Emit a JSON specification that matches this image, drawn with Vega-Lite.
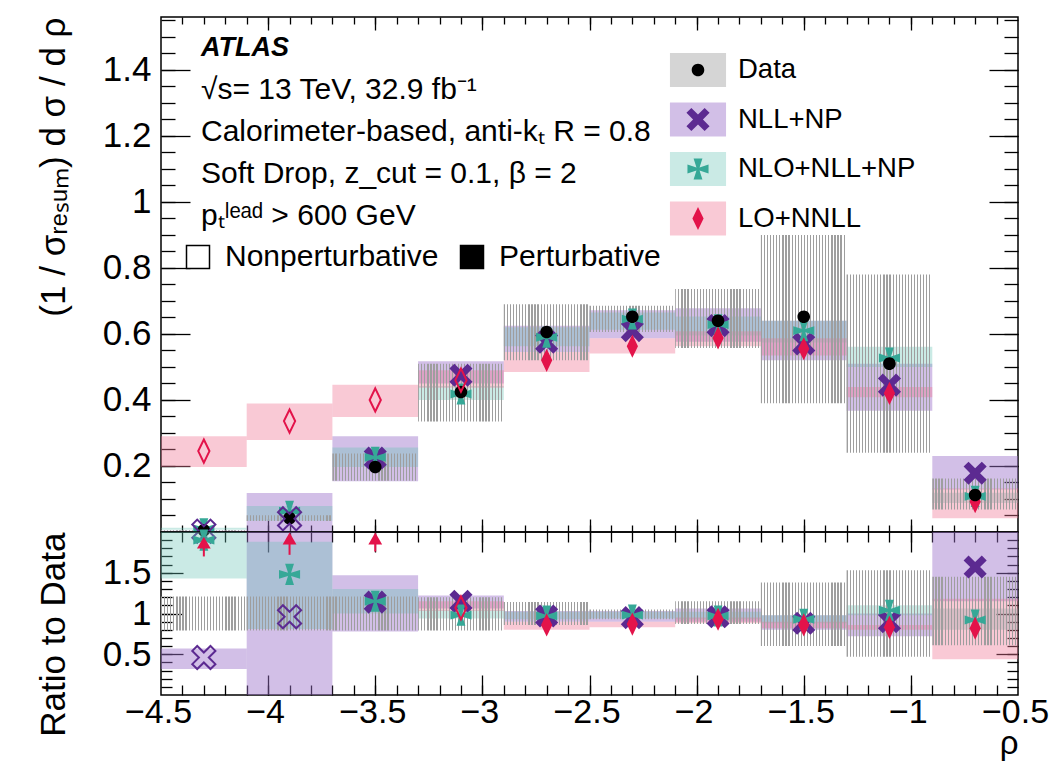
{
  "$schema": "https://vega.github.io/schema/vega-lite/v6.json",
  "background": "white",
  "padding": {"left": 35, "top": 15, "right": 0, "bottom": 0},
  "spacing": 0,
  "bounds": "flush",
  "datasets": {
    "top_bands": [
      {"model": "NLL+NP", "lo": -4.5, "hi": -4.1, "y1": 0.0015, "y2": 0.004},
      {"model": "NLL+NP", "lo": -4.1, "hi": -3.7, "y1": 0.0, "y2": 0.118},
      {"model": "NLL+NP", "lo": -3.7, "hi": -3.3, "y1": 0.154, "y2": 0.29},
      {"model": "NLL+NP", "lo": -3.3, "hi": -2.9, "y1": 0.45, "y2": 0.517},
      {"model": "NLL+NP", "lo": -2.9, "hi": -2.5, "y1": 0.545, "y2": 0.625},
      {"model": "NLL+NP", "lo": -2.5, "hi": -2.1, "y1": 0.587, "y2": 0.672},
      {"model": "NLL+NP", "lo": -2.1, "hi": -1.7, "y1": 0.576, "y2": 0.678},
      {"model": "NLL+NP", "lo": -1.7, "hi": -1.3, "y1": 0.52, "y2": 0.64},
      {"model": "NLL+NP", "lo": -1.3, "hi": -0.9, "y1": 0.367, "y2": 0.51},
      {"model": "NLL+NP", "lo": -0.9, "hi": -0.5, "y1": 0.129, "y2": 0.23},
      {"model": "NLO+NLL+NP", "lo": -4.5, "hi": -4.1, "y1": 0.007, "y2": 0.013},
      {"model": "NLO+NLL+NP", "lo": -4.1, "hi": -3.7, "y1": 0.034, "y2": 0.079},
      {"model": "NLO+NLL+NP", "lo": -3.7, "hi": -3.3, "y1": 0.197, "y2": 0.256},
      {"model": "NLO+NLL+NP", "lo": -3.3, "hi": -2.9, "y1": 0.4, "y2": 0.442},
      {"model": "NLO+NLL+NP", "lo": -2.9, "hi": -2.5, "y1": 0.563, "y2": 0.62},
      {"model": "NLO+NLL+NP", "lo": -2.5, "hi": -2.1, "y1": 0.613, "y2": 0.665},
      {"model": "NLO+NLL+NP", "lo": -2.1, "hi": -1.7, "y1": 0.595, "y2": 0.653},
      {"model": "NLO+NLL+NP", "lo": -1.7, "hi": -1.3, "y1": 0.574, "y2": 0.64},
      {"model": "NLO+NLL+NP", "lo": -1.3, "hi": -0.9, "y1": 0.5, "y2": 0.561},
      {"model": "NLO+NLL+NP", "lo": -0.9, "hi": -0.5, "y1": 0.088, "y2": 0.119},
      {"model": "LO+NNLL", "lo": -4.5, "hi": -4.1, "y1": 0.197, "y2": 0.29},
      {"model": "LO+NNLL", "lo": -4.1, "hi": -3.7, "y1": 0.279, "y2": 0.389},
      {"model": "LO+NNLL", "lo": -3.7, "hi": -3.3, "y1": 0.348, "y2": 0.446},
      {"model": "LO+NNLL", "lo": -3.3, "hi": -2.9, "y1": 0.437, "y2": 0.49},
      {"model": "LO+NNLL", "lo": -2.9, "hi": -2.5, "y1": 0.485, "y2": 0.545},
      {"model": "LO+NNLL", "lo": -2.5, "hi": -2.1, "y1": 0.541, "y2": 0.587},
      {"model": "LO+NNLL", "lo": -2.1, "hi": -1.7, "y1": 0.563, "y2": 0.608},
      {"model": "LO+NNLL", "lo": -1.7, "hi": -1.3, "y1": 0.535, "y2": 0.587},
      {"model": "LO+NNLL", "lo": -1.3, "hi": -0.9, "y1": 0.408, "y2": 0.439},
      {"model": "LO+NNLL", "lo": -0.9, "hi": -0.5, "y1": 0.042, "y2": 0.132},
      {"model": "Data", "lo": -4.5, "hi": -4.1, "y1": 0.004, "y2": 0.006},
      {"model": "Data", "lo": -4.1, "hi": -3.7, "y1": 0.033, "y2": 0.051},
      {"model": "Data", "lo": -3.7, "hi": -3.3, "y1": 0.155, "y2": 0.238},
      {"model": "Data", "lo": -3.3, "hi": -2.9, "y1": 0.335, "y2": 0.51},
      {"model": "Data", "lo": -2.9, "hi": -2.5, "y1": 0.52, "y2": 0.69},
      {"model": "Data", "lo": -2.5, "hi": -2.1, "y1": 0.606, "y2": 0.685},
      {"model": "Data", "lo": -2.1, "hi": -1.7, "y1": 0.557, "y2": 0.736},
      {"model": "Data", "lo": -1.7, "hi": -1.3, "y1": 0.39, "y2": 0.9},
      {"model": "Data", "lo": -1.3, "hi": -0.9, "y1": 0.24, "y2": 0.78},
      {"model": "Data", "lo": -0.9, "hi": -0.5, "y1": 0.068, "y2": 0.162}
    ],
    "top_pts": [
      {"model": "NLL+NP", "x": -4.3, "v": 0.0025, "open": true},
      {"model": "NLL+NP", "x": -3.9, "v": 0.04, "open": true},
      {"model": "NLL+NP", "x": -3.5, "v": 0.224, "open": false},
      {"model": "NLL+NP", "x": -3.1, "v": 0.475, "open": false},
      {"model": "NLL+NP", "x": -2.7, "v": 0.575, "open": false},
      {"model": "NLL+NP", "x": -2.3, "v": 0.61, "open": false},
      {"model": "NLL+NP", "x": -1.9, "v": 0.625, "open": false},
      {"model": "NLL+NP", "x": -1.5, "v": 0.57, "open": false},
      {"model": "NLL+NP", "x": -1.1, "v": 0.445, "open": false},
      {"model": "NLL+NP", "x": -0.7, "v": 0.178, "open": false},
      {"model": "NLO+NLL+NP", "x": -4.3, "v": 0.0095, "open": false},
      {"model": "NLO+NLL+NP", "x": -3.9, "v": 0.063, "open": false},
      {"model": "NLO+NLL+NP", "x": -3.5, "v": 0.226, "open": false},
      {"model": "NLO+NLL+NP", "x": -3.1, "v": 0.418, "open": false},
      {"model": "NLO+NLL+NP", "x": -2.7, "v": 0.59, "open": false},
      {"model": "NLO+NLL+NP", "x": -2.3, "v": 0.645, "open": false},
      {"model": "NLO+NLL+NP", "x": -1.9, "v": 0.628, "open": false},
      {"model": "NLO+NLL+NP", "x": -1.5, "v": 0.61, "open": false},
      {"model": "NLO+NLL+NP", "x": -1.1, "v": 0.527, "open": false},
      {"model": "NLO+NLL+NP", "x": -0.7, "v": 0.108, "open": false},
      {"model": "LO+NNLL", "x": -4.3, "v": 0.245, "open": true},
      {"model": "LO+NNLL", "x": -3.9, "v": 0.336, "open": true},
      {"model": "LO+NNLL", "x": -3.5, "v": 0.4, "open": true},
      {"model": "LO+NNLL", "x": -3.1, "v": 0.46, "open": true},
      {"model": "LO+NNLL", "x": -2.7, "v": 0.52, "open": false},
      {"model": "LO+NNLL", "x": -2.3, "v": 0.563, "open": false},
      {"model": "LO+NNLL", "x": -1.9, "v": 0.588, "open": false},
      {"model": "LO+NNLL", "x": -1.5, "v": 0.555, "open": false},
      {"model": "LO+NNLL", "x": -1.1, "v": 0.42, "open": false},
      {"model": "LO+NNLL", "x": -0.7, "v": 0.092, "open": false},
      {"model": "Data", "x": -4.3, "v": 0.005, "open": false},
      {"model": "Data", "x": -3.9, "v": 0.042, "open": false},
      {"model": "Data", "x": -3.5, "v": 0.197, "open": false},
      {"model": "Data", "x": -3.1, "v": 0.424, "open": false},
      {"model": "Data", "x": -2.7, "v": 0.606, "open": false},
      {"model": "Data", "x": -2.3, "v": 0.652, "open": false},
      {"model": "Data", "x": -1.9, "v": 0.64, "open": false},
      {"model": "Data", "x": -1.5, "v": 0.652, "open": false},
      {"model": "Data", "x": -1.1, "v": 0.51, "open": false},
      {"model": "Data", "x": -0.7, "v": 0.112, "open": false}
    ],
    "ratio_bands": [
      {"model": "NLL+NP", "lo": -4.5, "hi": -4.1, "y1": 0.32, "y2": 0.57},
      {"model": "NLL+NP", "lo": -4.1, "hi": -3.7, "y1": 0.0, "y2": 2.0},
      {"model": "NLL+NP", "lo": -3.7, "hi": -3.3, "y1": 0.78, "y2": 1.47},
      {"model": "NLL+NP", "lo": -3.3, "hi": -2.9, "y1": 1.06, "y2": 1.22},
      {"model": "NLL+NP", "lo": -2.9, "hi": -2.5, "y1": 0.9, "y2": 1.03},
      {"model": "NLL+NP", "lo": -2.5, "hi": -2.1, "y1": 0.9, "y2": 1.03},
      {"model": "NLL+NP", "lo": -2.1, "hi": -1.7, "y1": 0.9, "y2": 1.06},
      {"model": "NLL+NP", "lo": -1.7, "hi": -1.3, "y1": 0.8, "y2": 0.98},
      {"model": "NLL+NP", "lo": -1.3, "hi": -0.9, "y1": 0.72, "y2": 1.0},
      {"model": "NLL+NP", "lo": -0.9, "hi": -0.5, "y1": 1.15, "y2": 2.0},
      {"model": "NLO+NLL+NP", "lo": -4.5, "hi": -4.1, "y1": 1.43, "y2": 2.0},
      {"model": "NLO+NLL+NP", "lo": -4.1, "hi": -3.7, "y1": 0.81, "y2": 1.88},
      {"model": "NLO+NLL+NP", "lo": -3.7, "hi": -3.3, "y1": 1.0, "y2": 1.3},
      {"model": "NLO+NLL+NP", "lo": -3.3, "hi": -2.9, "y1": 0.94, "y2": 1.04},
      {"model": "NLO+NLL+NP", "lo": -2.9, "hi": -2.5, "y1": 0.93, "y2": 1.02},
      {"model": "NLO+NLL+NP", "lo": -2.5, "hi": -2.1, "y1": 0.94, "y2": 1.02},
      {"model": "NLO+NLL+NP", "lo": -2.1, "hi": -1.7, "y1": 0.93, "y2": 1.02},
      {"model": "NLO+NLL+NP", "lo": -1.7, "hi": -1.3, "y1": 0.88, "y2": 0.98},
      {"model": "NLO+NLL+NP", "lo": -1.3, "hi": -0.9, "y1": 0.98, "y2": 1.1},
      {"model": "NLO+NLL+NP", "lo": -0.9, "hi": -0.5, "y1": 0.8, "y2": 1.06},
      {"model": "LO+NNLL", "lo": -3.3, "hi": -2.9, "y1": 1.03, "y2": 1.15},
      {"model": "LO+NNLL", "lo": -2.9, "hi": -2.5, "y1": 0.8, "y2": 0.9},
      {"model": "LO+NNLL", "lo": -2.5, "hi": -2.1, "y1": 0.83, "y2": 0.9},
      {"model": "LO+NNLL", "lo": -2.1, "hi": -1.7, "y1": 0.88, "y2": 0.95},
      {"model": "LO+NNLL", "lo": -1.7, "hi": -1.3, "y1": 0.82, "y2": 0.9},
      {"model": "LO+NNLL", "lo": -1.3, "hi": -0.9, "y1": 0.8, "y2": 0.86},
      {"model": "LO+NNLL", "lo": -0.9, "hi": -0.5, "y1": 0.44, "y2": 1.18},
      {"model": "Data", "lo": -4.5, "hi": -4.1, "y1": 0.79, "y2": 1.21},
      {"model": "Data", "lo": -4.1, "hi": -3.7, "y1": 0.79, "y2": 1.21},
      {"model": "Data", "lo": -3.7, "hi": -3.3, "y1": 0.79, "y2": 1.21},
      {"model": "Data", "lo": -3.3, "hi": -2.9, "y1": 0.79, "y2": 1.2},
      {"model": "Data", "lo": -2.9, "hi": -2.5, "y1": 0.86, "y2": 1.14},
      {"model": "Data", "lo": -2.5, "hi": -2.1, "y1": 0.93, "y2": 1.05},
      {"model": "Data", "lo": -2.1, "hi": -1.7, "y1": 0.87, "y2": 1.15},
      {"model": "Data", "lo": -1.7, "hi": -1.3, "y1": 0.6, "y2": 1.38},
      {"model": "Data", "lo": -1.3, "hi": -0.9, "y1": 0.47, "y2": 1.53},
      {"model": "Data", "lo": -0.9, "hi": -0.5, "y1": 0.61, "y2": 1.45}
    ],
    "ratio_pts": [
      {"model": "NLL+NP", "x": -4.3, "v": 0.46, "open": true},
      {"model": "NLL+NP", "x": -3.9, "v": 0.96, "open": true},
      {"model": "NLL+NP", "x": -3.5, "v": 1.14, "open": false},
      {"model": "NLL+NP", "x": -3.1, "v": 1.15, "open": false},
      {"model": "NLL+NP", "x": -2.7, "v": 0.97, "open": false},
      {"model": "NLL+NP", "x": -2.3, "v": 0.95, "open": false},
      {"model": "NLL+NP", "x": -1.9, "v": 0.96, "open": false},
      {"model": "NLL+NP", "x": -1.5, "v": 0.88, "open": false},
      {"model": "NLL+NP", "x": -1.1, "v": 0.9, "open": false},
      {"model": "NLL+NP", "x": -0.7, "v": 1.57, "open": false},
      {"model": "NLO+NLL+NP", "x": -4.3, "v": 1.9, "open": false},
      {"model": "NLO+NLL+NP", "x": -3.9, "v": 1.48, "open": false},
      {"model": "NLO+NLL+NP", "x": -3.5, "v": 1.15, "open": false},
      {"model": "NLO+NLL+NP", "x": -3.1, "v": 0.98, "open": false},
      {"model": "NLO+NLL+NP", "x": -2.7, "v": 0.97, "open": false},
      {"model": "NLO+NLL+NP", "x": -2.3, "v": 0.98, "open": false},
      {"model": "NLO+NLL+NP", "x": -1.9, "v": 0.97, "open": false},
      {"model": "NLO+NLL+NP", "x": -1.5, "v": 0.93, "open": false},
      {"model": "NLO+NLL+NP", "x": -1.1, "v": 1.04, "open": false},
      {"model": "NLO+NLL+NP", "x": -0.7, "v": 0.92, "open": false},
      {"model": "LO+NNLL", "x": -3.1, "v": 1.07, "open": true},
      {"model": "LO+NNLL", "x": -2.7, "v": 0.86, "open": false},
      {"model": "LO+NNLL", "x": -2.3, "v": 0.87, "open": false},
      {"model": "LO+NNLL", "x": -1.9, "v": 0.93, "open": false},
      {"model": "LO+NNLL", "x": -1.5, "v": 0.86, "open": false},
      {"model": "LO+NNLL", "x": -1.1, "v": 0.83, "open": false},
      {"model": "LO+NNLL", "x": -0.7, "v": 0.82, "open": false}
    ],
    "ratio_arrows": [
      {"model": "LO+NNLL", "x": -4.3, "y1": 1.7, "y2": 1.85, "tip": 1.87},
      {"model": "LO+NNLL", "x": -3.9, "y1": 1.72, "y2": 1.9, "tip": 1.92},
      {"model": "LO+NNLL", "x": -3.5, "y1": 1.76, "y2": 1.9, "tip": 1.92}
    ]
  },
  "resolve": {
    "scale": {"color": "independent", "shape": "independent", "fill": "independent"},
    "legend": {"color": "independent", "shape": "independent", "fill": "independent"}
  },
  "vconcat": [
    {
      "width": 857,
      "height": 515,
      "title": {
        "text": "ATLAS",
        "subtitle": ["√s= 13 TeV, 32.9 fb⁻¹", "Calorimeter-based, anti-kₜ R = 0.8", "Soft Drop, z_cut = 0.1, β = 2", "pₜˡᵉᵃᵈ > 600 GeV"],
        "anchor": "start",
        "frame": "group",
        "orient": "top",
        "offset": -216,
        "dx": 40,
        "font": "Liberation Sans",
        "fontSize": 27,
        "fontWeight": "bold",
        "fontStyle": "italic",
        "color": "black",
        "subtitleFont": "Liberation Sans",
        "subtitleFontSize": 30,
        "subtitleLineHeight": 42,
        "subtitlePadding": 13,
        "subtitleColor": "black"
      },
      "resolve": {
        "scale": {"fill": "independent"},
        "legend": {"fill": "independent"},
        "axis": {"x": "independent", "y": "independent"}
      },
      "layer": [
        {
          "data": {"name": "top_bands"},
          "transform": [{"filter": "datum.model != 'Data'"}],
          "mark": {"type": "rect"},
          "encoding": {
            "x": {"field": "lo", "type": "quantitative", "scale": {"domain": [-4.5, -0.5], "nice": false, "zero": false},
                  "axis": {"orient": "bottom", "offset": -515, "values": [-4, -3.5, -3, -2.5, -2, -1.5, -1], "labels": false, "title": null, "tickSize": 13}},
            "x2": {"field": "hi"},
            "y": {"field": "y1", "type": "quantitative", "scale": {"domain": [0, 1.56], "nice": false, "zero": false},
                  "axis": {"orient": "left", "values": [0.2, 0.4, 0.6, 0.8, 1, 1.2, 1.4], "format": "~g", "ticks": false, "labelFontSize": 35, "labelPadding": 10, "title": "(1 / σᵣₑₛᵤₘ) d σ / d ρ", "titleFontSize": 35, "titleAnchor": "end", "titlePadding": 31}},
            "y2": {"field": "y2"},
            "fill": {"field": "model", "type": "nominal",
                     "scale": {"domain": ["Data", "NLL+NP", "NLO+NLL+NP", "LO+NNLL"], "range": ["rgba(150,150,150,0.4)", "rgba(155,114,201,0.45)", "rgba(102,194,181,0.35)", "rgba(240,120,150,0.4)"]},
                     "legend": {"orient": "none", "legendX": 520, "legendY": 36, "title": null, "symbolType": "M-1.65,-1H1.65V1H-1.65Z", "symbolSize": 1156, "symbolStrokeWidth": 0, "labelFontSize": 27.5, "labelOffset": 23, "rowPadding": 15.5, "zindex": 1, "padding": 0, "labelLimit": 0}}
          }
        },
        {
          "data": {"name": "top_bands"},
          "transform": [{"filter": "datum.model == 'Data'"}],
          "mark": {"type": "rect", "fill": {"gradient": "linear", "x1": 0, "y1": 0, "x2": 1, "y2": 0, "stops": [
            {"offset": 0, "color": "#9e9e9e"}, {"offset": 0.0143, "color": "#9e9e9e"}, {"offset": 0.0143, "color": "rgba(158,158,158,0)"}, {"offset": 0.0357, "color": "rgba(158,158,158,0)"},
            {"offset": 0.0357, "color": "#9e9e9e"}, {"offset": 0.05, "color": "#9e9e9e"}, {"offset": 0.05, "color": "rgba(158,158,158,0)"}, {"offset": 0.0714, "color": "rgba(158,158,158,0)"},
            {"offset": 0.0714, "color": "#9e9e9e"}, {"offset": 0.0857, "color": "#9e9e9e"}, {"offset": 0.0857, "color": "rgba(158,158,158,0)"}, {"offset": 0.1071, "color": "rgba(158,158,158,0)"},
            {"offset": 0.1071, "color": "#9e9e9e"}, {"offset": 0.1214, "color": "#9e9e9e"}, {"offset": 0.1214, "color": "rgba(158,158,158,0)"}, {"offset": 0.1429, "color": "rgba(158,158,158,0)"},
            {"offset": 0.1429, "color": "#9e9e9e"}, {"offset": 0.1571, "color": "#9e9e9e"}, {"offset": 0.1571, "color": "rgba(158,158,158,0)"}, {"offset": 0.1786, "color": "rgba(158,158,158,0)"},
            {"offset": 0.1786, "color": "#9e9e9e"}, {"offset": 0.1929, "color": "#9e9e9e"}, {"offset": 0.1929, "color": "rgba(158,158,158,0)"}, {"offset": 0.2143, "color": "rgba(158,158,158,0)"},
            {"offset": 0.2143, "color": "#9e9e9e"}, {"offset": 0.2286, "color": "#9e9e9e"}, {"offset": 0.2286, "color": "rgba(158,158,158,0)"}, {"offset": 0.25, "color": "rgba(158,158,158,0)"},
            {"offset": 0.25, "color": "#9e9e9e"}, {"offset": 0.2643, "color": "#9e9e9e"}, {"offset": 0.2643, "color": "rgba(158,158,158,0)"}, {"offset": 0.2857, "color": "rgba(158,158,158,0)"},
            {"offset": 0.2857, "color": "#9e9e9e"}, {"offset": 0.3, "color": "#9e9e9e"}, {"offset": 0.3, "color": "rgba(158,158,158,0)"}, {"offset": 0.3214, "color": "rgba(158,158,158,0)"},
            {"offset": 0.3214, "color": "#9e9e9e"}, {"offset": 0.3357, "color": "#9e9e9e"}, {"offset": 0.3357, "color": "rgba(158,158,158,0)"}, {"offset": 0.3571, "color": "rgba(158,158,158,0)"},
            {"offset": 0.3571, "color": "#9e9e9e"}, {"offset": 0.3714, "color": "#9e9e9e"}, {"offset": 0.3714, "color": "rgba(158,158,158,0)"}, {"offset": 0.3929, "color": "rgba(158,158,158,0)"},
            {"offset": 0.3929, "color": "#9e9e9e"}, {"offset": 0.4071, "color": "#9e9e9e"}, {"offset": 0.4071, "color": "rgba(158,158,158,0)"}, {"offset": 0.4286, "color": "rgba(158,158,158,0)"},
            {"offset": 0.4286, "color": "#9e9e9e"}, {"offset": 0.4429, "color": "#9e9e9e"}, {"offset": 0.4429, "color": "rgba(158,158,158,0)"}, {"offset": 0.4643, "color": "rgba(158,158,158,0)"},
            {"offset": 0.4643, "color": "#9e9e9e"}, {"offset": 0.4786, "color": "#9e9e9e"}, {"offset": 0.4786, "color": "rgba(158,158,158,0)"}, {"offset": 0.5, "color": "rgba(158,158,158,0)"},
            {"offset": 0.5, "color": "#9e9e9e"}, {"offset": 0.5143, "color": "#9e9e9e"}, {"offset": 0.5143, "color": "rgba(158,158,158,0)"}, {"offset": 0.5357, "color": "rgba(158,158,158,0)"},
            {"offset": 0.5357, "color": "#9e9e9e"}, {"offset": 0.55, "color": "#9e9e9e"}, {"offset": 0.55, "color": "rgba(158,158,158,0)"}, {"offset": 0.5714, "color": "rgba(158,158,158,0)"},
            {"offset": 0.5714, "color": "#9e9e9e"}, {"offset": 0.5857, "color": "#9e9e9e"}, {"offset": 0.5857, "color": "rgba(158,158,158,0)"}, {"offset": 0.6071, "color": "rgba(158,158,158,0)"},
            {"offset": 0.6071, "color": "#9e9e9e"}, {"offset": 0.6214, "color": "#9e9e9e"}, {"offset": 0.6214, "color": "rgba(158,158,158,0)"}, {"offset": 0.6429, "color": "rgba(158,158,158,0)"},
            {"offset": 0.6429, "color": "#9e9e9e"}, {"offset": 0.6571, "color": "#9e9e9e"}, {"offset": 0.6571, "color": "rgba(158,158,158,0)"}, {"offset": 0.6786, "color": "rgba(158,158,158,0)"},
            {"offset": 0.6786, "color": "#9e9e9e"}, {"offset": 0.6929, "color": "#9e9e9e"}, {"offset": 0.6929, "color": "rgba(158,158,158,0)"}, {"offset": 0.7143, "color": "rgba(158,158,158,0)"},
            {"offset": 0.7143, "color": "#9e9e9e"}, {"offset": 0.7286, "color": "#9e9e9e"}, {"offset": 0.7286, "color": "rgba(158,158,158,0)"}, {"offset": 0.75, "color": "rgba(158,158,158,0)"},
            {"offset": 0.75, "color": "#9e9e9e"}, {"offset": 0.7643, "color": "#9e9e9e"}, {"offset": 0.7643, "color": "rgba(158,158,158,0)"}, {"offset": 0.7857, "color": "rgba(158,158,158,0)"},
            {"offset": 0.7857, "color": "#9e9e9e"}, {"offset": 0.8, "color": "#9e9e9e"}, {"offset": 0.8, "color": "rgba(158,158,158,0)"}, {"offset": 0.8214, "color": "rgba(158,158,158,0)"},
            {"offset": 0.8214, "color": "#9e9e9e"}, {"offset": 0.8357, "color": "#9e9e9e"}, {"offset": 0.8357, "color": "rgba(158,158,158,0)"}, {"offset": 0.8571, "color": "rgba(158,158,158,0)"},
            {"offset": 0.8571, "color": "#9e9e9e"}, {"offset": 0.8714, "color": "#9e9e9e"}, {"offset": 0.8714, "color": "rgba(158,158,158,0)"}, {"offset": 0.8929, "color": "rgba(158,158,158,0)"},
            {"offset": 0.8929, "color": "#9e9e9e"}, {"offset": 0.9071, "color": "#9e9e9e"}, {"offset": 0.9071, "color": "rgba(158,158,158,0)"}, {"offset": 0.9286, "color": "rgba(158,158,158,0)"},
            {"offset": 0.9286, "color": "#9e9e9e"}, {"offset": 0.9429, "color": "#9e9e9e"}, {"offset": 0.9429, "color": "rgba(158,158,158,0)"}, {"offset": 0.9643, "color": "rgba(158,158,158,0)"},
            {"offset": 0.9643, "color": "#9e9e9e"}, {"offset": 0.9786, "color": "#9e9e9e"}, {"offset": 0.9786, "color": "rgba(158,158,158,0)"}, {"offset": 1, "color": "rgba(158,158,158,0)"}
          ]}},
          "encoding": {
            "x": {"field": "lo", "type": "quantitative", "scale": {"domain": [-4.5, -0.5], "nice": false, "zero": false},
                  "axis": {"orient": "bottom", "offset": -515, "values": [-4.4, -4.3, -4.2, -4.1, -4, -3.9, -3.8, -3.7, -3.6, -3.5, -3.4, -3.3, -3.2, -3.1, -3, -2.9, -2.8, -2.7, -2.6, -2.5, -2.4, -2.3, -2.2, -2.1, -2, -1.9, -1.8, -1.7, -1.6, -1.5, -1.4, -1.3, -1.2, -1.1, -1, -0.9, -0.8, -0.7, -0.6], "labels": false, "title": null, "tickSize": 7}},
            "x2": {"field": "hi"},
            "y": {"field": "y1", "type": "quantitative", "scale": {"domain": [0, 1.56], "nice": false, "zero": false},
                  "axis": {"orient": "right", "offset": -857, "values": [0.2, 0.4, 0.6, 0.8, 1, 1.2, 1.4], "labels": false, "title": null, "tickSize": 29}},
            "y2": {"field": "y2"}
          }
        },
        {
          "data": {"name": "top_pts"},
          "transform": [{"filter": "!datum.open"}],
          "mark": {"type": "point", "filled": true, "size": 1156, "opacity": 1, "strokeWidth": 0},
          "encoding": {
            "x": {"field": "x", "type": "quantitative", "scale": {"domain": [-4.5, -0.5], "nice": false, "zero": false},
                  "axis": {"orient": "top", "offset": -515, "values": [-4, -3.5, -3, -2.5, -2, -1.5, -1], "labels": false, "title": null, "tickSize": 13}},
            "y": {"field": "v", "type": "quantitative", "scale": {"domain": [0, 1.56], "nice": false, "zero": false},
                  "axis": {"orient": "right", "offset": -857, "values": [0.05, 0.1, 0.15, 0.2, 0.25, 0.3, 0.35, 0.4, 0.45, 0.5, 0.55, 0.6, 0.65, 0.7, 0.75, 0.8, 0.85, 0.9, 0.95, 1, 1.05, 1.1, 1.15, 1.2, 1.25, 1.3, 1.35, 1.4, 1.45, 1.5, 1.55], "labels": false, "title": null, "tickSize": 14}},
            "color": {"field": "model", "type": "nominal",
                      "scale": {"domain": ["Data", "NLL+NP", "NLO+NLL+NP", "LO+NNLL"], "range": ["#000000", "#5c2a91", "#36a897", "#e3134a"]},
                      "legend": {"orient": "none", "legendX": 520, "legendY": 36, "title": null, "symbolSize": 1156, "symbolStrokeWidth": 0, "labelFontSize": 27.5, "labelOffset": 23, "rowPadding": 15.5, "labelColor": "transparent", "zindex": 2, "padding": 0, "labelLimit": 0}},
            "shape": {"field": "model", "type": "nominal",
                      "scale": {"domain": ["Data", "NLL+NP", "NLO+NLL+NP", "LO+NNLL"], "range": [
                        "M0.37,0A0.37,0.37 0 1,1 -0.37,0A0.37,0.37 0 1,1 0.37,0ZM-1.65,-1L-1.65,-1M1.65,1L1.65,1",
                        "M0,-0.29L0.39,-0.68L0.68,-0.39L0.29,0L0.68,0.39L0.39,0.68L0,0.29L-0.39,0.68L-0.68,0.39L-0.29,0L-0.68,-0.39L-0.39,-0.68ZM-1.65,-1L-1.65,-1M1.65,1L1.65,1",
                        "M-0.26,-0.62L0.26,-0.62L0.09,-0.09L0.62,-0.26L0.62,0.26L0.09,0.09L0.26,0.62L-0.26,0.62L-0.09,0.09L-0.62,0.26L-0.62,-0.26L-0.09,-0.09ZM-1.65,-1L-1.65,-1M1.65,1L1.65,1",
                        "M0,-0.68L0.33,0L0,0.68L-0.33,0ZM-1.65,-1L-1.65,-1M1.65,1L1.65,1"]},
                      "legend": {"orient": "none", "legendX": 520, "legendY": 36, "title": null, "symbolSize": 1156, "symbolStrokeWidth": 0, "labelFontSize": 27.5, "labelOffset": 23, "rowPadding": 15.5, "labelColor": "transparent", "zindex": 2, "padding": 0, "labelLimit": 0}}
          }
        },
        {
          "data": {"name": "top_pts"},
          "transform": [{"filter": "datum.open"}],
          "mark": {"type": "point", "filled": false, "size": 1156, "opacity": 1, "strokeWidth": 2},
          "encoding": {
            "x": {"field": "x", "type": "quantitative", "scale": {"domain": [-4.5, -0.5], "nice": false, "zero": false},
                  "axis": {"orient": "top", "offset": -515, "values": [-4.4, -4.3, -4.2, -4.1, -4, -3.9, -3.8, -3.7, -3.6, -3.5, -3.4, -3.3, -3.2, -3.1, -3, -2.9, -2.8, -2.7, -2.6, -2.5, -2.4, -2.3, -2.2, -2.1, -2, -1.9, -1.8, -1.7, -1.6, -1.5, -1.4, -1.3, -1.2, -1.1, -1, -0.9, -0.8, -0.7, -0.6], "labels": false, "title": null, "tickSize": 7}},
            "y": {"field": "v", "type": "quantitative", "scale": {"domain": [0, 1.56], "nice": false, "zero": false},
                  "axis": {"orient": "left", "offset": -857, "values": [0.2, 0.4, 0.6, 0.8, 1, 1.2, 1.4], "labels": false, "title": null, "tickSize": 29}},
            "color": {"field": "model", "type": "nominal",
                      "scale": {"domain": ["Data", "NLL+NP", "NLO+NLL+NP", "LO+NNLL"], "range": ["#000000", "#5c2a91", "#36a897", "#e3134a"]},
                      "legend": null},
            "shape": {"field": "model", "type": "nominal",
                      "scale": {"domain": ["Data", "NLL+NP", "NLO+NLL+NP", "LO+NNLL"], "range": [
                        "M0.37,0A0.37,0.37 0 1,1 -0.37,0A0.37,0.37 0 1,1 0.37,0ZM-1.65,-1L-1.65,-1M1.65,1L1.65,1",
                        "M0,-0.29L0.39,-0.68L0.68,-0.39L0.29,0L0.68,0.39L0.39,0.68L0,0.29L-0.39,0.68L-0.68,0.39L-0.29,0L-0.68,-0.39L-0.39,-0.68ZM-1.65,-1L-1.65,-1M1.65,1L1.65,1",
                        "M-0.26,-0.62L0.26,-0.62L0.09,-0.09L0.62,-0.26L0.62,0.26L0.09,0.09L0.26,0.62L-0.26,0.62L-0.09,0.09L-0.62,0.26L-0.62,-0.26L-0.09,-0.09ZM-1.65,-1L-1.65,-1M1.65,1L1.65,1",
                        "M0,-0.68L0.33,0L0,0.68L-0.33,0ZM-1.65,-1L-1.65,-1M1.65,1L1.65,1"]},
                      "legend": null}
          }
        },
        {
          "data": {"values": [{"regime": "Perturbative", "x": -2, "v": 0.5}]},
          "transform": [{"filter": "datum.v > 10"}],
          "mark": {"type": "point", "shape": "square", "filled": true, "stroke": "black", "strokeWidth": 1.5, "opacity": 1},
          "encoding": {
            "x": {"field": "x", "type": "quantitative", "scale": {"domain": [-4.5, -0.5], "nice": false, "zero": false}, "axis": null},
            "y": {"field": "v", "type": "quantitative", "scale": {"domain": [0, 1.56], "nice": false, "zero": false},
                  "axis": {"orient": "left", "offset": -857, "values": [0.05, 0.1, 0.15, 0.2, 0.25, 0.3, 0.35, 0.4, 0.45, 0.5, 0.55, 0.6, 0.65, 0.7, 0.75, 0.8, 0.85, 0.9, 0.95, 1, 1.05, 1.1, 1.15, 1.2, 1.25, 1.3, 1.35, 1.4, 1.45, 1.5, 1.55], "labels": false, "title": null, "tickSize": 14}},
            "fill": {"field": "regime", "type": "nominal",
                     "scale": {"domain": ["Nonperturbative", "Perturbative"], "range": ["white", "black"]},
                     "legend": {"orient": "none", "legendX": 22, "legendY": 225, "title": null, "direction": "horizontal", "columns": 2, "columnPadding": 18, "symbolType": "square", "symbolSize": 529, "symbolStrokeColor": "black", "symbolStrokeWidth": 1.5, "labelFontSize": 30, "labelOffset": 12, "padding": 0, "labelLimit": 0}}
          }
        }
      ]
    },
    {
      "width": 857,
      "height": 163,
      "resolve": {
        "axis": {"x": "independent", "y": "independent"}
      },
      "layer": [
        {
          "data": {"name": "ratio_bands"},
          "transform": [{"filter": "datum.model != 'Data'"}],
          "mark": {"type": "rect", "clip": true},
          "encoding": {
            "x": {"field": "lo", "type": "quantitative", "scale": {"domain": [-4.5, -0.5], "nice": false, "zero": false},
                  "axis": {"orient": "bottom", "values": [-4.5, -4, -3.5, -3, -2.5, -2, -1.5, -1, -0.5], "format": "~g", "ticks": false, "labelFontSize": 34, "labelPadding": 0, "labelOffset": -3, "title": "ρ", "titleFontSize": 33, "titleAnchor": "end", "titleBaseline": "top", "titleY": 32}},
            "x2": {"field": "hi"},
            "y": {"field": "y1", "type": "quantitative", "scale": {"domain": [0, 2], "nice": false, "zero": false},
                  "axis": {"orient": "left", "values": [0.5, 1, 1.5], "format": "~g", "ticks": false, "labelFontSize": 35, "labelPadding": 10, "title": "Ratio to Data", "titleFontSize": 35, "titleAnchor": "end", "titlePadding": 31}},
            "y2": {"field": "y2"},
            "fill": {"field": "model", "type": "nominal",
                     "scale": {"domain": ["NLL+NP", "NLO+NLL+NP", "LO+NNLL"], "range": ["rgba(155,114,201,0.45)", "rgba(102,194,181,0.35)", "rgba(240,120,150,0.4)"]},
                     "legend": null}
          }
        },
        {
          "data": {"name": "ratio_bands"},
          "transform": [{"filter": "datum.model == 'Data'"}],
          "mark": {"type": "rect", "fill": {"gradient": "linear", "x1": 0, "y1": 0, "x2": 1, "y2": 0, "stops": [
            {"offset": 0, "color": "#9e9e9e"}, {"offset": 0.0143, "color": "#9e9e9e"}, {"offset": 0.0143, "color": "rgba(158,158,158,0)"}, {"offset": 0.0357, "color": "rgba(158,158,158,0)"},
            {"offset": 0.0357, "color": "#9e9e9e"}, {"offset": 0.05, "color": "#9e9e9e"}, {"offset": 0.05, "color": "rgba(158,158,158,0)"}, {"offset": 0.0714, "color": "rgba(158,158,158,0)"},
            {"offset": 0.0714, "color": "#9e9e9e"}, {"offset": 0.0857, "color": "#9e9e9e"}, {"offset": 0.0857, "color": "rgba(158,158,158,0)"}, {"offset": 0.1071, "color": "rgba(158,158,158,0)"},
            {"offset": 0.1071, "color": "#9e9e9e"}, {"offset": 0.1214, "color": "#9e9e9e"}, {"offset": 0.1214, "color": "rgba(158,158,158,0)"}, {"offset": 0.1429, "color": "rgba(158,158,158,0)"},
            {"offset": 0.1429, "color": "#9e9e9e"}, {"offset": 0.1571, "color": "#9e9e9e"}, {"offset": 0.1571, "color": "rgba(158,158,158,0)"}, {"offset": 0.1786, "color": "rgba(158,158,158,0)"},
            {"offset": 0.1786, "color": "#9e9e9e"}, {"offset": 0.1929, "color": "#9e9e9e"}, {"offset": 0.1929, "color": "rgba(158,158,158,0)"}, {"offset": 0.2143, "color": "rgba(158,158,158,0)"},
            {"offset": 0.2143, "color": "#9e9e9e"}, {"offset": 0.2286, "color": "#9e9e9e"}, {"offset": 0.2286, "color": "rgba(158,158,158,0)"}, {"offset": 0.25, "color": "rgba(158,158,158,0)"},
            {"offset": 0.25, "color": "#9e9e9e"}, {"offset": 0.2643, "color": "#9e9e9e"}, {"offset": 0.2643, "color": "rgba(158,158,158,0)"}, {"offset": 0.2857, "color": "rgba(158,158,158,0)"},
            {"offset": 0.2857, "color": "#9e9e9e"}, {"offset": 0.3, "color": "#9e9e9e"}, {"offset": 0.3, "color": "rgba(158,158,158,0)"}, {"offset": 0.3214, "color": "rgba(158,158,158,0)"},
            {"offset": 0.3214, "color": "#9e9e9e"}, {"offset": 0.3357, "color": "#9e9e9e"}, {"offset": 0.3357, "color": "rgba(158,158,158,0)"}, {"offset": 0.3571, "color": "rgba(158,158,158,0)"},
            {"offset": 0.3571, "color": "#9e9e9e"}, {"offset": 0.3714, "color": "#9e9e9e"}, {"offset": 0.3714, "color": "rgba(158,158,158,0)"}, {"offset": 0.3929, "color": "rgba(158,158,158,0)"},
            {"offset": 0.3929, "color": "#9e9e9e"}, {"offset": 0.4071, "color": "#9e9e9e"}, {"offset": 0.4071, "color": "rgba(158,158,158,0)"}, {"offset": 0.4286, "color": "rgba(158,158,158,0)"},
            {"offset": 0.4286, "color": "#9e9e9e"}, {"offset": 0.4429, "color": "#9e9e9e"}, {"offset": 0.4429, "color": "rgba(158,158,158,0)"}, {"offset": 0.4643, "color": "rgba(158,158,158,0)"},
            {"offset": 0.4643, "color": "#9e9e9e"}, {"offset": 0.4786, "color": "#9e9e9e"}, {"offset": 0.4786, "color": "rgba(158,158,158,0)"}, {"offset": 0.5, "color": "rgba(158,158,158,0)"},
            {"offset": 0.5, "color": "#9e9e9e"}, {"offset": 0.5143, "color": "#9e9e9e"}, {"offset": 0.5143, "color": "rgba(158,158,158,0)"}, {"offset": 0.5357, "color": "rgba(158,158,158,0)"},
            {"offset": 0.5357, "color": "#9e9e9e"}, {"offset": 0.55, "color": "#9e9e9e"}, {"offset": 0.55, "color": "rgba(158,158,158,0)"}, {"offset": 0.5714, "color": "rgba(158,158,158,0)"},
            {"offset": 0.5714, "color": "#9e9e9e"}, {"offset": 0.5857, "color": "#9e9e9e"}, {"offset": 0.5857, "color": "rgba(158,158,158,0)"}, {"offset": 0.6071, "color": "rgba(158,158,158,0)"},
            {"offset": 0.6071, "color": "#9e9e9e"}, {"offset": 0.6214, "color": "#9e9e9e"}, {"offset": 0.6214, "color": "rgba(158,158,158,0)"}, {"offset": 0.6429, "color": "rgba(158,158,158,0)"},
            {"offset": 0.6429, "color": "#9e9e9e"}, {"offset": 0.6571, "color": "#9e9e9e"}, {"offset": 0.6571, "color": "rgba(158,158,158,0)"}, {"offset": 0.6786, "color": "rgba(158,158,158,0)"},
            {"offset": 0.6786, "color": "#9e9e9e"}, {"offset": 0.6929, "color": "#9e9e9e"}, {"offset": 0.6929, "color": "rgba(158,158,158,0)"}, {"offset": 0.7143, "color": "rgba(158,158,158,0)"},
            {"offset": 0.7143, "color": "#9e9e9e"}, {"offset": 0.7286, "color": "#9e9e9e"}, {"offset": 0.7286, "color": "rgba(158,158,158,0)"}, {"offset": 0.75, "color": "rgba(158,158,158,0)"},
            {"offset": 0.75, "color": "#9e9e9e"}, {"offset": 0.7643, "color": "#9e9e9e"}, {"offset": 0.7643, "color": "rgba(158,158,158,0)"}, {"offset": 0.7857, "color": "rgba(158,158,158,0)"},
            {"offset": 0.7857, "color": "#9e9e9e"}, {"offset": 0.8, "color": "#9e9e9e"}, {"offset": 0.8, "color": "rgba(158,158,158,0)"}, {"offset": 0.8214, "color": "rgba(158,158,158,0)"},
            {"offset": 0.8214, "color": "#9e9e9e"}, {"offset": 0.8357, "color": "#9e9e9e"}, {"offset": 0.8357, "color": "rgba(158,158,158,0)"}, {"offset": 0.8571, "color": "rgba(158,158,158,0)"},
            {"offset": 0.8571, "color": "#9e9e9e"}, {"offset": 0.8714, "color": "#9e9e9e"}, {"offset": 0.8714, "color": "rgba(158,158,158,0)"}, {"offset": 0.8929, "color": "rgba(158,158,158,0)"},
            {"offset": 0.8929, "color": "#9e9e9e"}, {"offset": 0.9071, "color": "#9e9e9e"}, {"offset": 0.9071, "color": "rgba(158,158,158,0)"}, {"offset": 0.9286, "color": "rgba(158,158,158,0)"},
            {"offset": 0.9286, "color": "#9e9e9e"}, {"offset": 0.9429, "color": "#9e9e9e"}, {"offset": 0.9429, "color": "rgba(158,158,158,0)"}, {"offset": 0.9643, "color": "rgba(158,158,158,0)"},
            {"offset": 0.9643, "color": "#9e9e9e"}, {"offset": 0.9786, "color": "#9e9e9e"}, {"offset": 0.9786, "color": "rgba(158,158,158,0)"}, {"offset": 1, "color": "rgba(158,158,158,0)"}
          ]}},
          "encoding": {
            "x": {"field": "lo", "type": "quantitative", "scale": {"domain": [-4.5, -0.5], "nice": false, "zero": false},
                  "axis": {"orient": "bottom", "offset": -163, "values": [-4, -3.5, -3, -2.5, -2, -1.5, -1], "labels": false, "title": null, "tickSize": 20}},
            "x2": {"field": "hi"},
            "y": {"field": "y1", "type": "quantitative", "scale": {"domain": [0, 2], "nice": false, "zero": false},
                  "axis": {"orient": "right", "offset": -857, "values": [0.5, 1, 1.5], "labels": false, "title": null, "tickSize": 22}},
            "y2": {"field": "y2"}
          }
        },
        {
          "data": {"name": "ratio_pts"},
          "transform": [{"filter": "!datum.open"}],
          "mark": {"type": "point", "filled": true, "size": 1156, "opacity": 1, "strokeWidth": 0},
          "encoding": {
            "x": {"field": "x", "type": "quantitative", "scale": {"domain": [-4.5, -0.5], "nice": false, "zero": false},
                  "axis": {"orient": "bottom", "offset": -163, "values": [-4.4, -4.3, -4.2, -4.1, -4, -3.9, -3.8, -3.7, -3.6, -3.5, -3.4, -3.3, -3.2, -3.1, -3, -2.9, -2.8, -2.7, -2.6, -2.5, -2.4, -2.3, -2.2, -2.1, -2, -1.9, -1.8, -1.7, -1.6, -1.5, -1.4, -1.3, -1.2, -1.1, -1, -0.9, -0.8, -0.7, -0.6], "labels": false, "title": null, "tickSize": 10}},
            "y": {"field": "v", "type": "quantitative", "scale": {"domain": [0, 2], "nice": false, "zero": false},
                  "axis": {"orient": "right", "offset": -857, "values": [0.1, 0.2, 0.3, 0.4, 0.5, 0.6, 0.7, 0.8, 0.9, 1, 1.1, 1.2, 1.3, 1.4, 1.5, 1.6, 1.7, 1.8, 1.9], "labels": false, "title": null, "tickSize": 11}},
            "color": {"field": "model", "type": "nominal",
                      "scale": {"domain": ["NLL+NP", "NLO+NLL+NP", "LO+NNLL"], "range": ["#5c2a91", "#36a897", "#e3134a"]},
                      "legend": null},
            "shape": {"field": "model", "type": "nominal",
                      "scale": {"domain": ["NLL+NP", "NLO+NLL+NP", "LO+NNLL"], "range": [
                        "M0,-0.29L0.39,-0.68L0.68,-0.39L0.29,0L0.68,0.39L0.39,0.68L0,0.29L-0.39,0.68L-0.68,0.39L-0.29,0L-0.68,-0.39L-0.39,-0.68Z",
                        "M-0.26,-0.62L0.26,-0.62L0.09,-0.09L0.62,-0.26L0.62,0.26L0.09,0.09L0.26,0.62L-0.26,0.62L-0.09,0.09L-0.62,0.26L-0.62,-0.26L-0.09,-0.09Z",
                        "M0,-0.68L0.33,0L0,0.68L-0.33,0Z"]},
                      "legend": null}
          }
        },
        {
          "data": {"name": "ratio_pts"},
          "transform": [{"filter": "datum.open"}],
          "mark": {"type": "point", "filled": false, "size": 1156, "opacity": 1, "strokeWidth": 2},
          "encoding": {
            "x": {"field": "x", "type": "quantitative", "scale": {"domain": [-4.5, -0.5], "nice": false, "zero": false},
                  "axis": {"orient": "top", "offset": -163, "values": [-4, -3.5, -3, -2.5, -2, -1.5, -1], "labels": false, "title": null, "tickSize": 20}},
            "y": {"field": "v", "type": "quantitative", "scale": {"domain": [0, 2], "nice": false, "zero": false},
                  "axis": {"orient": "left", "offset": -857, "values": [0.5, 1, 1.5], "labels": false, "title": null, "tickSize": 22}},
            "color": {"field": "model", "type": "nominal",
                      "scale": {"domain": ["NLL+NP", "NLO+NLL+NP", "LO+NNLL"], "range": ["#5c2a91", "#36a897", "#e3134a"]},
                      "legend": null},
            "shape": {"field": "model", "type": "nominal",
                      "scale": {"domain": ["NLL+NP", "NLO+NLL+NP", "LO+NNLL"], "range": [
                        "M0,-0.29L0.39,-0.68L0.68,-0.39L0.29,0L0.68,0.39L0.39,0.68L0,0.29L-0.39,0.68L-0.68,0.39L-0.29,0L-0.68,-0.39L-0.39,-0.68Z",
                        "M-0.26,-0.62L0.26,-0.62L0.09,-0.09L0.62,-0.26L0.62,0.26L0.09,0.09L0.26,0.62L-0.26,0.62L-0.09,0.09L-0.62,0.26L-0.62,-0.26L-0.09,-0.09Z",
                        "M0,-0.68L0.33,0L0,0.68L-0.33,0Z"]},
                      "legend": null}
          }
        },
        {
          "data": {"name": "ratio_arrows"},
          "mark": {"type": "rule", "color": "#e3134a", "strokeWidth": 2},
          "encoding": {
            "x": {"field": "x", "type": "quantitative", "scale": {"domain": [-4.5, -0.5], "nice": false, "zero": false},
                  "axis": {"orient": "top", "offset": -163, "values": [-4.4, -4.3, -4.2, -4.1, -4, -3.9, -3.8, -3.7, -3.6, -3.5, -3.4, -3.3, -3.2, -3.1, -3, -2.9, -2.8, -2.7, -2.6, -2.5, -2.4, -2.3, -2.2, -2.1, -2, -1.9, -1.8, -1.7, -1.6, -1.5, -1.4, -1.3, -1.2, -1.1, -1, -0.9, -0.8, -0.7, -0.6], "labels": false, "title": null, "tickSize": 10}},
            "y": {"field": "y1", "type": "quantitative", "scale": {"domain": [0, 2], "nice": false, "zero": false},
                  "axis": {"orient": "left", "offset": -857, "values": [0.1, 0.2, 0.3, 0.4, 0.5, 0.6, 0.7, 0.8, 0.9, 1, 1.1, 1.2, 1.3, 1.4, 1.5, 1.6, 1.7, 1.8, 1.9], "labels": false, "title": null, "tickSize": 11}},
            "y2": {"field": "y2"}
          }
        },
        {
          "data": {"name": "ratio_arrows"},
          "mark": {"type": "point", "shape": "triangle-up", "filled": true, "size": 190, "color": "#e3134a", "opacity": 1},
          "encoding": {
            "x": {"field": "x", "type": "quantitative", "scale": {"domain": [-4.5, -0.5], "nice": false, "zero": false}, "axis": null},
            "y": {"field": "tip", "type": "quantitative", "scale": {"domain": [0, 2], "nice": false, "zero": false}, "axis": null}
          }
        }
      ]
    }
  ],
  "config": {
    "font": "Liberation Sans",
    "view": {"stroke": "black", "strokeWidth": 1.5},
    "axis": {"grid": false, "domain": false, "labelFont": "Liberation Sans", "titleFont": "Liberation Sans", "labelColor": "black", "titleColor": "black", "tickColor": "black", "tickWidth": 1.3, "labelFlush": false, "labelOverlap": false, "labelBound": false, "titleFontWeight": "normal"},
    "legend": {"labelFont": "Liberation Sans", "labelColor": "black", "labelLimit": 0}
  }
}
